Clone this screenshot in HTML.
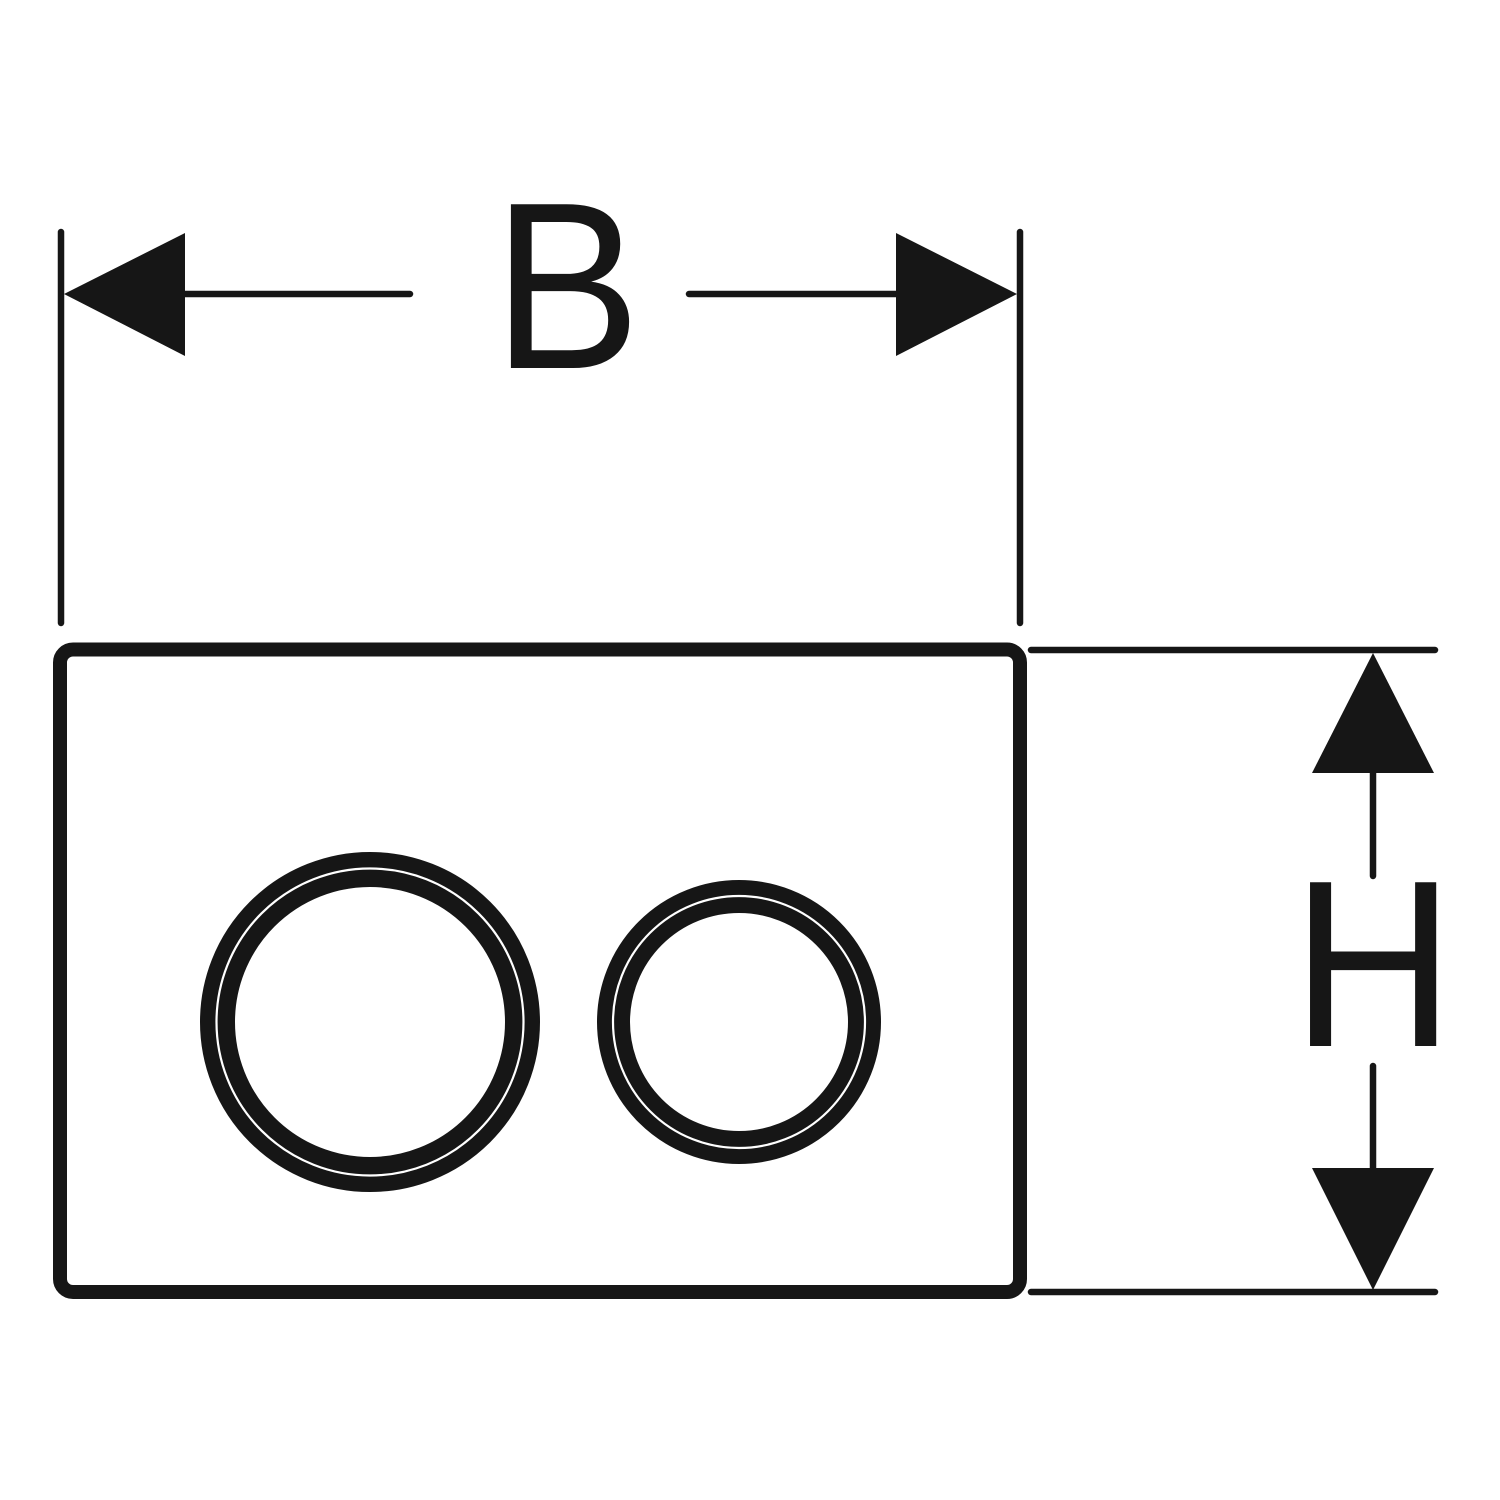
<!DOCTYPE html>
<html>
<head>
<meta charset="utf-8">
<style>
html,body{margin:0;padding:0;background:#fff;}
svg{display:block;}
</style>
</head>
<body>
<svg width="1500" height="1500" viewBox="0 0 1500 1500" xmlns="http://www.w3.org/2000/svg">
<rect width="1500" height="1500" fill="#fff"/>
<g stroke="#161616" fill="none" stroke-linecap="round">
  <line x1="61" y1="232" x2="61" y2="623" stroke-width="6.500"/>
  <line x1="1020" y1="232" x2="1020" y2="623" stroke-width="6.500"/>
  <line x1="180" y1="294" x2="410" y2="294" stroke-width="6.500"/>
  <line x1="689" y1="294" x2="900" y2="294" stroke-width="6.500"/>
  <rect x="60" y="649.500" width="960" height="642.500" rx="13" stroke-width="14"/>
  <line x1="1031" y1="650" x2="1435" y2="650" stroke-width="6.500"/>
  <line x1="1031" y1="1292" x2="1435" y2="1292" stroke-width="6.500"/>
  <line x1="1373" y1="770" x2="1373" y2="876" stroke-width="6.500"/>
  <line x1="1373" y1="1066" x2="1373" y2="1172" stroke-width="6.500"/>
  <circle cx="370" cy="1022" r="152.500" stroke-width="35"/>
  <circle cx="739" cy="1022" r="125.500" stroke-width="33"/>
</g>
<g fill="none" stroke="#fff" stroke-width="2.200">
  <circle cx="370" cy="1022" r="153.500"/>
  <circle cx="739" cy="1022" r="126"/>
</g>
<g fill="#161616">
  <polygon points="64,294 185,233 185,356"/>
  <polygon points="1017,294 896,233 896,356"/>
  <polygon points="1373,653 1312,773 1434,773"/>
  <polygon points="1373,1290 1312,1168 1434,1168"/>
</g>
<text transform="translate(492.700,368) scale(0.933,1)" font-family="'Liberation Sans', sans-serif" font-size="238" fill="#161616">B</text>
<text transform="translate(1291.500,1046) scale(0.949,1)" font-family="'Liberation Sans', sans-serif" font-size="238" fill="#161616">H</text>
</svg>
</body>
</html>
